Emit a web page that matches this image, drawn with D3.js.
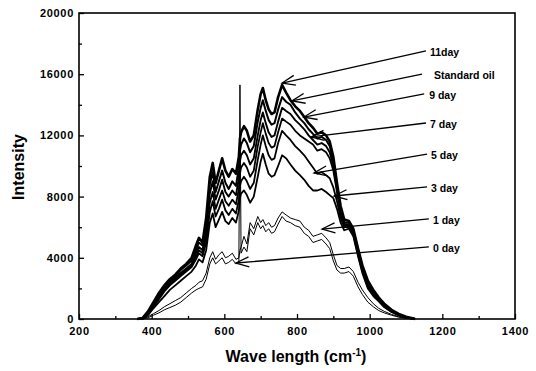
<!DOCTYPE html>
<html>
<head>
<meta charset="utf-8">
<script src="https://cdn.jsdelivr.net/npm/d3@7"></script>
<style>
  body { margin: 0; background: #fff; }
  text { font-family: 'Liberation Sans', Arial, sans-serif; font-weight: bold; fill: #000; }
</style>
</head>
<body>
<svg id="chart" width="536" height="371"></svg>
<script>
// wave numbers shared by all spectra (cm-1)
const waveNumbers = [360,375,390,405,420,435,450,465,480,495, 510,522,530,540,550,560,568,576,585,594,
  603,612,622,632,640,643,646,654,662,671, 681,692,700,706,714,722,730,738,748,759,
  770,782,795,808,820,832,844,856,868,880, 890,900,910,920,930,943,955,968,980,995,
  1010,1025,1040,1060,1080,1100,1115,1125]

const day11 = [0,60,500,1100,1700,2200,2600,2900,3300,3600, 4000,4800,5300,5000,6600,9300,10200,8900,9700,10500,
  9700,9300,9800,9500,10600,11800,12200,12600,12300,11600, 12000,13700,14700,15100,14300,13700,13400,13500,14500,15300,
  14800,14300,13900,13600,13200,12800,12500,12100,12200,12000, 11600,10600,8900,7400,6500,6400,5900,4600,3500,2500,
  1900,1400,1000,600,330,150,60,0]
const standardOil = [0,50,450,1000,1600,2100,2500,2800,3200,3500, 3800,4500,5000,4800,6200,8800,9600,8300,9000,9700,
  8900,8500,9000,8700,9900,11000,11400,11800,11500,10900, 11300,12900,13800,14300,13600,13000,12700,12800,13700,14500,
  14200,14000,13500,13100,12800,12400,12100,11800,11900,11700, 11300,10300,8700,7200,6300,6300,5800,4500,3400,2400,
  1800,1350,950,560,300,130,50,0]
const day9 = [0,40,400,950,1500,2000,2400,2700,3000,3300, 3600,4300,4700,4500,5800,8200,9000,7800,8400,9100,
  8300,8000,8400,8100,9200,10300,10700,11000,10700,10100, 10500,12000,13000,13500,12800,12200,11900,12000,12900,13800,
  13600,13400,13000,12700,12400,12000,11700,11400,11500,11300, 10900,10000,8500,7000,6200,6200,5700,4400,3300,2300,
  1700,1300,900,520,280,120,40,0]
const day7 = [0,30,350,900,1400,1900,2300,2600,2900,3200, 3500,4100,4500,4300,5400,7600,8300,7200,7800,8400,
  7700,7400,7800,7500,8500,9500,9900,10200,9900,9300, 9700,11300,12200,12800,12100,11500,11200,11300,12200,13100,
  12900,12700,12300,12000,11800,11600,11400,11000,11100,10900, 10500,9700,8300,6900,6100,6100,5600,4300,3200,2200,
  1600,1250,850,500,260,110,40,0]
const day5 = [0,20,300,800,1300,1800,2200,2500,2800,3100, 3400,3900,4300,4100,5000,7000,7700,6700,7200,7800,
  7100,6800,7200,6900,7800,8700,9000,9300,9000,8500, 8900,10400,11400,12000,11300,10700,10400,10500,11500,12300,
  12000,11700,11300,11000,10700,10300,9900,9500,9600,9400, 9200,8600,7700,6600,6000,6000,5500,4200,3100,2100,
  1550,1200,800,480,250,100,35,0]
const day3 = [0,10,250,700,1100,1500,1900,2200,2500,2800, 3100,3500,3900,3700,4500,6300,6900,6000,6500,7000,
  6400,6200,6600,6300,7100,7900,8200,8400,8100,7600, 8000,9300,10300,10800,10100,9500,9300,9400,10000,10700,
  10500,10100,9700,9400,9100,8700,8400,8400,8500,8300, 8100,7900,7200,6300,5800,5900,5400,4100,3000,2000,
  1500,1150,780,460,240,100,30,0]
const day1 = [0,0,150,350,550,800,1000,1200,1400,1700, 2000,2200,2400,2500,3000,4000,4400,3900,4200,4400,
  4000,4100,4300,3900,4000,4500,4700,5400,4900,6300, 5900,6700,6300,6500,6100,6300,6000,6100,6600,7000,
  6800,6600,6500,6400,6000,5800,5400,5500,5600,5300, 5000,4200,3500,3300,3300,3400,3100,2400,1900,1400,
  1000,700,500,300,150,60,20,0]
const day0 = [0,0,80,250,400,600,750,900,1100,1400, 1700,1900,2000,2100,2600,3600,4000,3600,3800,4000,
  3600,3700,3900,3600,3700,15300,4300,4700,4400,5900, 5500,6300,5900,6100,5700,5900,5600,5700,6200,6700,
  6400,6300,6100,6000,5600,5400,5000,5100,5200,4900, 4600,3800,3200,3000,3000,3100,2800,2100,1600,1100,
  800,550,400,250,120,40,10,0]

const seriesValues = [day0, day1, day3, day5, day7, day9, standardOil, day11]
const seriesWidths = [1, 1, 1.8, 1.8, 1.8, 1.9, 2, 2.6]

// arrow annotations (data units): label, line start, arrow tip
const annLabels = ['11day', 'Standard oil', '9 day', '7 day', '5 day', '3 day', '1 day', '0 day']
const annFromX = [1155, 1144, 1150, 1155, 1158, 1158, 1163, 1163]
const annFromY = [17520, 16010, 14710, 12810, 10780, 8630, 6540, 4710]
const annTipX = [759, 786, 819, 839, 847, 902, 869, 632]
const annTipY = [15420, 14250, 13200, 11900, 9540, 8040, 5880, 3660]
const annTextDx = [4, 12, 5, 4, 4, 4, 4, 4]

const xMajor = [200, 400, 600, 800, 1000, 1200, 1400]
const xMinor = [300, 500, 700, 900, 1100, 1300]
const yMajor = [0, 4000, 8000, 12000, 16000, 20000]
const yMinor = [2000, 6000, 10000, 14000, 18000]

const x = d3.scaleLinear().domain([200, 1400]).range([79, 515])
const y = d3.scaleLinear().domain([0, 20000]).range([319, 13])

const svg = d3.select('#chart')

// axes, ticks pointing inward
const xAxis = svg.append('g').attr('transform', 'translate(0,319)')
  .call(d3.axisBottom(x).tickValues(xMajor).tickSize(-5).tickPadding(8).tickFormat(d3.format('d')))
xAxis.append('g')
  .call(d3.axisBottom(x).tickValues(xMinor).tickSize(-3).tickFormat(''))
const yAxis = svg.append('g').attr('transform', 'translate(79,0)')
  .call(d3.axisLeft(y).tickValues(yMajor).tickSize(-5).tickPadding(5).tickFormat(d3.format('d')))
yAxis.append('g')
  .call(d3.axisLeft(y).tickValues(yMinor).tickSize(-3).tickFormat(''))

svg.selectAll('.domain').remove()
svg.selectAll('.tick line').attr('stroke', '#000').attr('stroke-width', 1.3)
svg.selectAll('.tick text')
  .style('font-size', '11px')
  .style('letter-spacing', '0.7px')
  .style('font-family', "'Liberation Sans', Arial, sans-serif")
  .style('font-weight', 'bold')
  .attr('fill', '#000')

svg.append('rect')
  .attr('x', x(200)).attr('y', y(20000))
  .attr('width', x(1400) - x(200)).attr('height', y(0) - y(20000))
  .attr('fill', 'none').attr('stroke', '#000').attr('stroke-width', 1.6)

// spectra
const line = d3.line()
  .x((d, i) => x(waveNumbers[i]))
  .y(d => y(d))

svg.append('g')
  .selectAll('path')
  .data(seriesValues)
  .enter()
  .append('path')
  .attr('d', d => line(d))
  .attr('fill', 'none')
  .attr('stroke', '#000')
  .attr('stroke-linejoin', 'round')
  .attr('stroke-width', (d, i) => seriesWidths[i])

// arrows
svg.append('defs').append('marker')
  .attr('id', 'arrow')
  .attr('markerUnits', 'userSpaceOnUse')
  .attr('viewBox', '-14 -7 16 14')
  .attr('refX', 0).attr('refY', 0)
  .attr('markerWidth', 16).attr('markerHeight', 14)
  .attr('orient', 'auto')
  .append('path')
  .attr('d', 'M-13,-5L0,0L-13,5')
  .attr('fill', 'none')
  .attr('stroke', '#000')
  .attr('stroke-width', 1.3)

const ann = svg.append('g')
annLabels.forEach(function (label, i) {
  ann.append('line')
    .attr('x1', x(annFromX[i])).attr('y1', y(annFromY[i]))
    .attr('x2', x(annTipX[i])).attr('y2', y(annTipY[i]))
    .attr('stroke', '#000')
    .attr('stroke-width', 1.3)
    .attr('marker-end', 'url(#arrow)')
  ann.append('text')
    .attr('x', x(annFromX[i]) + annTextDx[i])
    .attr('y', y(annFromY[i]) + 1)
    .attr('dominant-baseline', 'central')
    .style('font-size', '10.5px')
    .text(label)
})

// axis titles
svg.append('text')
  .attr('transform', 'translate(24,167) rotate(-90)')
  .attr('text-anchor', 'middle')
  .style('font-size', '16px')
  .text('Intensity')

const xt = svg.append('text')
  .attr('x', 296).attr('y', 362)
  .attr('text-anchor', 'middle')
  .style('font-size', '16px')
xt.append('tspan').text('Wave length (cm')
xt.append('tspan').attr('dy', -6).style('font-size', '10px').text('-1')
xt.append('tspan').attr('dy', 6).text(')')
</script>
</body>
</html>
